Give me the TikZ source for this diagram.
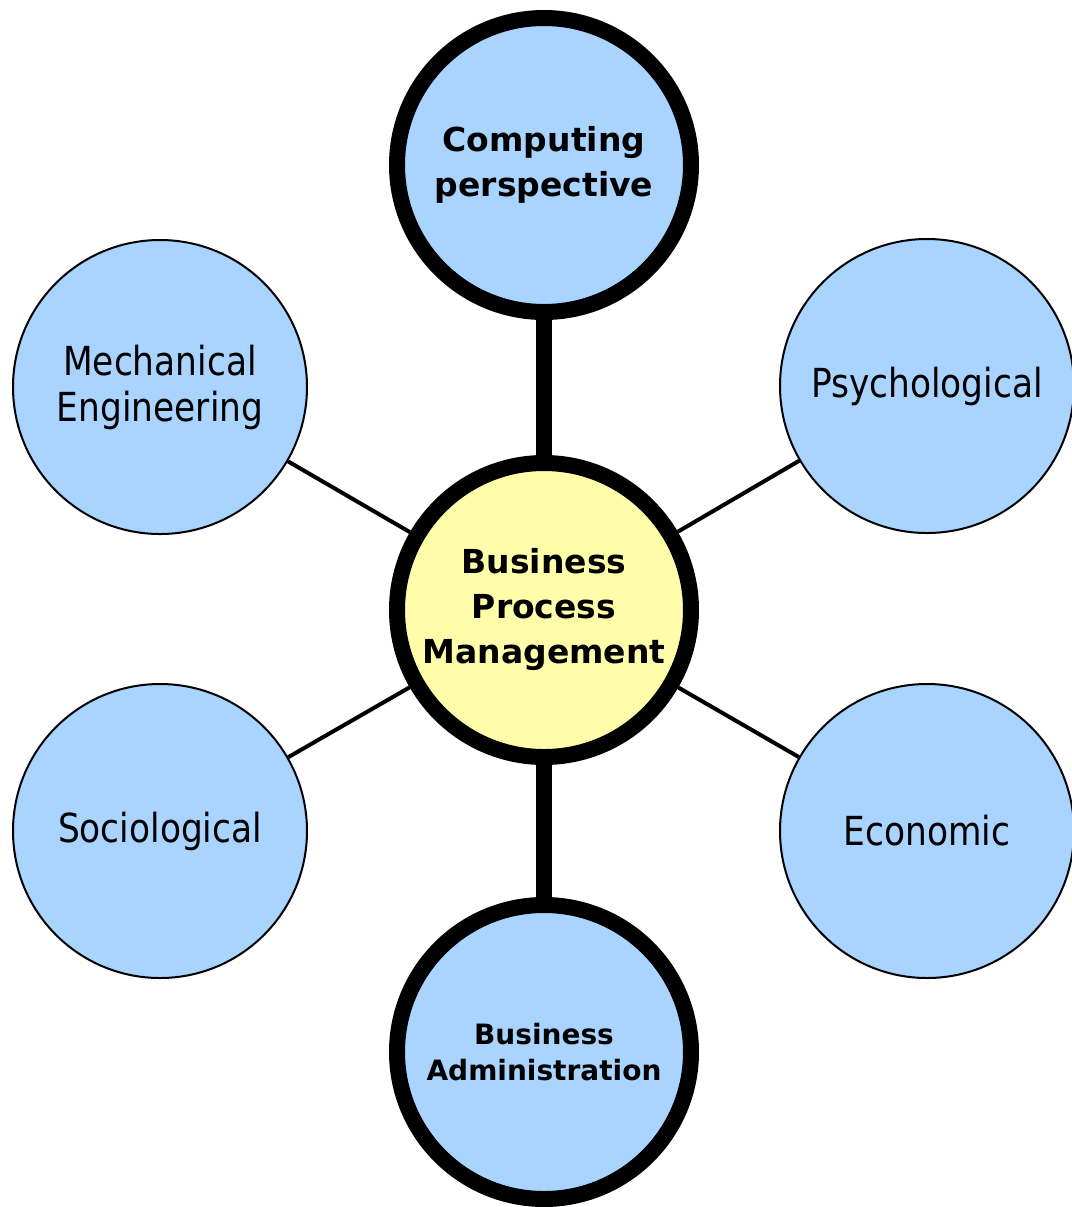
\documentclass[tikz,border=0pt]{standalone}
\usepackage{fontspec}
\setmainfont{DejaVu Sans}
\newfontfamily\narrowfont[FakeStretch=0.86]{DejaVu Sans}
\definecolor{bubbleblue}{RGB}{168,212,255}
\definecolor{bubbleyellow}{RGB}{255,252,170}

\begin{document}
\begin{tikzpicture}[x=0.5pt,y=-0.5pt,
    field/.style={circle,draw=black,line width=1pt,fill=bubbleblue,
        minimum size=147pt,inner sep=0pt,align=center,
        font=\narrowfont\fontsize{20pt}{23pt}\selectfont},
    core/.style={field,line width=8pt,
        font=\bfseries\fontsize{16.5pt}{22.5pt}\selectfont},
    thinlink/.style={line width=2pt},
    thicklink/.style={line width=8pt}]
    \useasboundingbox (0,0) rectangle (1072,1207);

    \node[core,fill=bubbleyellow] (bpm) at (544,610) {Business\\Process\\Management};
    \node[core] (comp) at (544,165) {Computing\\perspective};
    \node[core,font=\bfseries\fontsize{14pt}{18pt}\selectfont] (badm) at (544,1052) {Business\\Administration};
    \node[field] (mech) at (160,387) {Mechanical\\Engineering};
    \node[field] (psych) at (927,386) {Psychological};
    \node[field] (socio) at (160,831) {Sociological};
    \node[field] (econ) at (927,831) {Economic};

    \draw[thicklink] (bpm) -- (comp);
    \draw[thicklink] (bpm) -- (badm);
    \draw[thinlink] (bpm) -- (mech);
    \draw[thinlink] (bpm) -- (psych);
    \draw[thinlink] (bpm) -- (socio);
    \draw[thinlink] (bpm) -- (econ);
\end{tikzpicture}
\end{document}
